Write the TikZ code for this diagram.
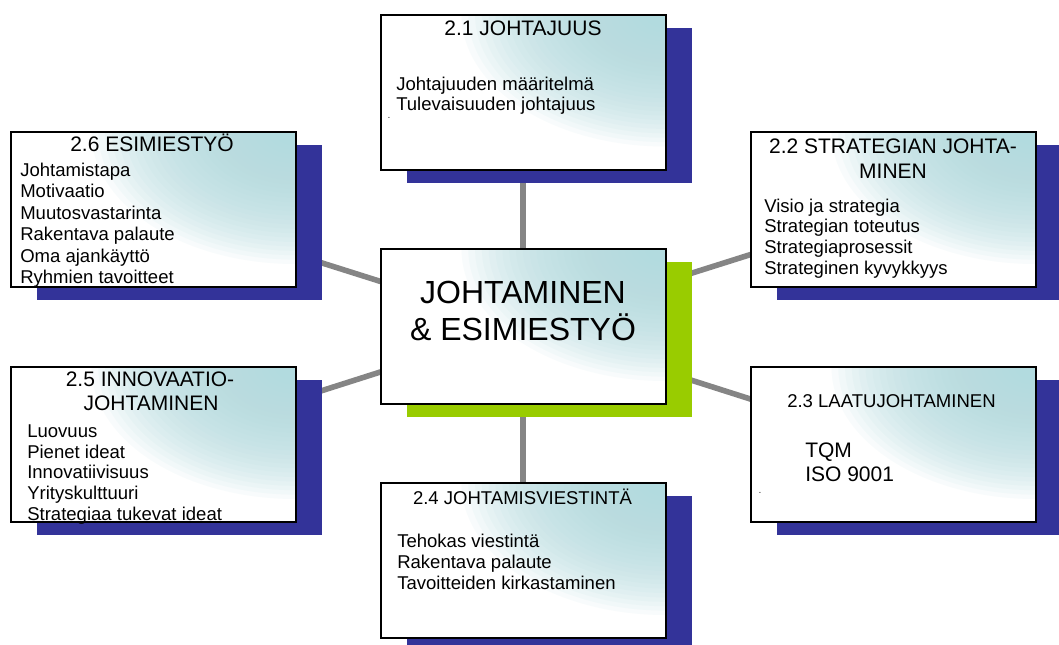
\documentclass[tikz,border=0pt]{standalone}
\usepackage{fontspec}
\setmainfont{Liberation Sans}
\usetikzlibrary{shadows}

\definecolor{shadowblue}{HTML}{333399}
\definecolor{limegreen}{HTML}{99CC00}
\definecolor{linkgrey}{HTML}{858585}
\definecolor{paleteal}{HTML}{B2DBDF}

\pgfdeclarelayer{links}
\pgfsetlayers{links,main}

\tikzset{
  % soft teal glow spreading from the upper right corner, built from
  % stacked translucent ellipses
  card/.style={draw=black, line width=1.5pt, fill=white, inner sep=0pt,
    minimum width=213.75pt, minimum height=116.25pt,
    path picture={
      \foreach \k in {1,...,30}
        \fill[paleteal, fill opacity=0.09]
          (path picture bounding box.north east)
          ellipse [x radius={\k*5.1pt}, y radius={\k*3.3pt}];}},
  bluecard/.style={card, drop shadow={shadow xshift=19.5pt, shadow yshift=-9.75pt,
    fill=shadowblue, opacity=1}},
  greencard/.style={card, drop shadow={shadow xshift=19.5pt, shadow yshift=-9.75pt,
    fill=limegreen, opacity=1}},
  link/.style={draw=linkgrey, line width=4.2pt},
  head/.style={font=\fontsize{15.75}{18}\selectfont, inner sep=0pt, anchor=base},
  smallhead/.style={font=\fontsize{13.9}{16}\selectfont, inner sep=0pt, anchor=base west},
  item/.style={font=\fontsize{13.9}{16}\selectfont, inner sep=0pt, anchor=base west},
  bigitem/.style={font=\fontsize{15.75}{18}\selectfont, inner sep=0pt, anchor=base west},
  hub/.style={font=\fontsize{24}{28}\selectfont, inner sep=0pt, anchor=base},
  tick/.style={font=\fontsize{5}{6}\selectfont, inner sep=0pt}
}

\begin{document}
\begin{tikzpicture}[x=0.75pt, y=-0.75pt]
\useasboundingbox (0,0) rectangle (1059,644);

% cards
\node[greencard] (bc)  at (523,326.5) {};
\node[bluecard]  (b21) at (523,92)    {};
\node[bluecard]  (b22) at (893,209.5) {};
\node[bluecard]  (b23) at (893,444.5) {};
\node[bluecard]  (b24) at (523,560.5) {};
\node[bluecard]  (b25) at (153,444.5) {};
\node[bluecard]  (b26) at (153,209.5) {};

% spokes from the hub to each card
\begin{pgfonlayer}{links}
  \foreach \c in {b21,b22,b23,b24,b25,b26}
    \draw[link] (bc.center) -- (\c.center);
\end{pgfonlayer}

% hub
\node[hub] (hub1) at (523,303.6) {JOHTAMINEN};
\node[hub] (hub2) at (523,340.2) {\& ESIMIESTYÖ};

% 2.1
\node[head] (t21) at (523,35) {2.1 JOHTAJUUS};
\node[item] (i21a) at (396,90.5)  {Johtajuuden määritelmä};
\node[item] (i21b) at (396,110.5) {Tulevaisuuden johtajuus};
\node[tick] (d21) at (389,118) {-};

% 2.2
\node[head] (t22a) at (893,153.3) {2.2 STRATEGIAN JOHTA-};
\node[head] (t22b) at (893,178.3) {MINEN};
\foreach \t [count=\i] in {Visio ja strategia, Strategian toteutus,
    Strategiaprosessit, Strateginen kyvykkyys}
  \node[item] (i22-\i) at (764,{212.3+20.6*(\i-1)}) {\t};

% 2.3
\node[smallhead] (t23) at (787,407.6) {2.3 LAATUJOHTAMINEN};
\node[bigitem] (i23a) at (805,457.3) {TQM};
\node[bigitem] (i23b) at (805,481.7) {ISO 9001};
\node[tick] (d23) at (760,493) {-};

% 2.4
\node[head, font=\fontsize{13.9}{16}\selectfont] (t24) at (522.5,504) {2.4 JOHTAMISVIESTINTÄ};
\foreach \t [count=\i] in {Tehokas viestintä, Rakentava palaute,
    Tavoitteiden kirkastaminen}
  \node[item] (i24-\i) at (397,{547.3+21*(\i-1)}) {\t};

% 2.5
\node[head] (t25a) at (150,386.7) {2.5 INNOVAATIO-};
\node[head] (t25b) at (151,410) {JOHTAMINEN};
\foreach \t [count=\i] in {Luovuus, Pienet ideat, Innovatiivisuus,
    Yrityskulttuuri, Strategiaa tukevat ideat}
  \node[item] (i25-\i) at (27,{437.3+20.7*(\i-1)}) {\t};

% 2.6
\node[head] (t26) at (152,151.7) {2.6 ESIMIESTYÖ};
\foreach \t [count=\i] in {Johtamistapa, Motivaatio, Muutosvastarinta,
    Rakentava palaute, Oma ajankäyttö, Ryhmien tavoitteet}
  \node[item] (i26-\i) at (20,{176.6+21.35*(\i-1)}) {\t};

\end{tikzpicture}
\end{document}
